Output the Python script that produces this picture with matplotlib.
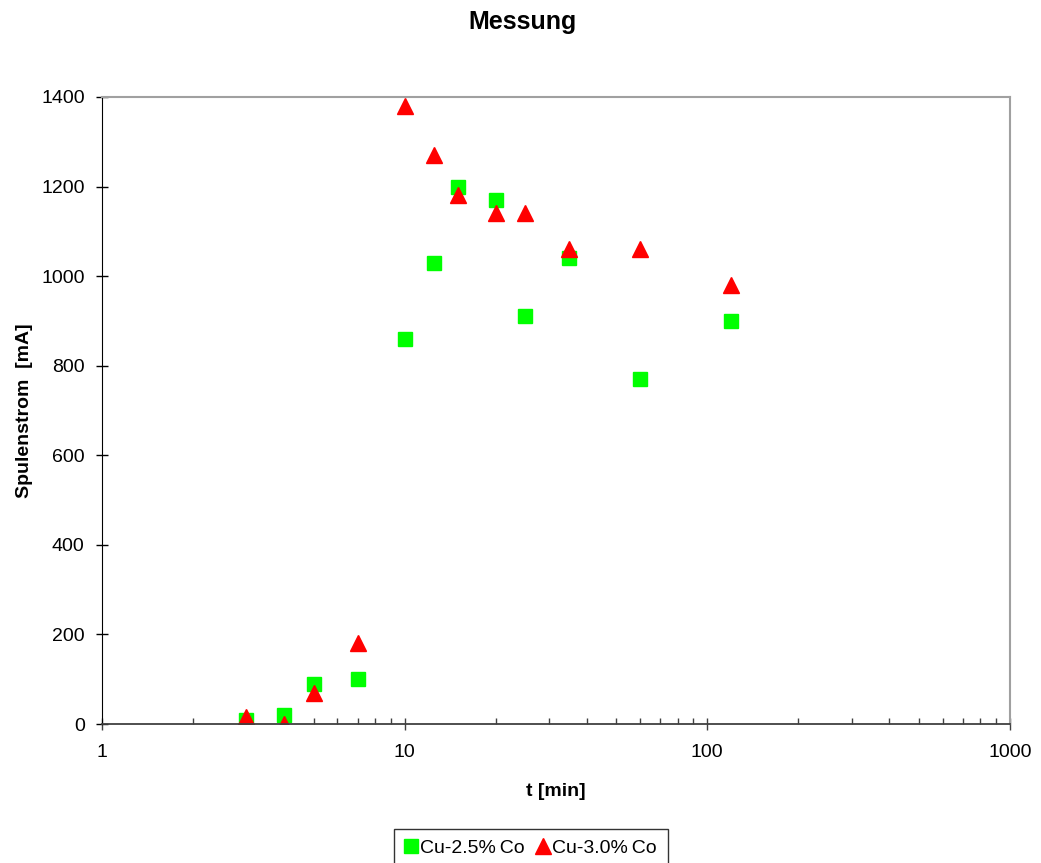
import matplotlib.pyplot as plt
from matplotlib.ticker import LogLocator, NullFormatter

plt.rcParams['font.family'] = ['Liberation Sans', 'DejaVu Sans']

# time in minutes
t = [3, 4, 5, 7, 10, 12.5, 15, 20, 25, 35, 60, 120]

# coil current in mA
cu25 = [10, 20, 90, 100, 860, 1030, 1200, 1170, 910, 1040, 770, 900]
cu30 = [15, 0, 70, 180, 1380, 1270, 1180, 1140, 1140, 1060, 1060, 980]

labels = ["Cu-2.5%\u2009Co", "Cu-3.0%\u2009Co"]
yticks = [0, 200, 400, 600, 800, 1000, 1200, 1400]
xticks = [1, 10, 100, 1000]

fig = plt.figure(figsize=(10.41, 8.63), dpi=100)
ax = fig.add_axes([0.098, 0.161, 0.872, 0.7267])

ax.plot(t, cu25, linestyle='none', marker='s', markersize=10,
        color='#00ff00', markeredgecolor='#00ff00', label=labels[0])
ax.plot(t, cu30, linestyle='none', marker='^', markersize=11,
        color='#ff0000', markeredgecolor='#ff0000', label=labels[1])

ax.set_xscale('log')
ax.set_xlim(1, 1000)
ax.set_ylim(0, 1400)
ax.set_xticks(xticks)
ax.set_xticklabels([str(v) for v in xticks])
ax.xaxis.set_minor_locator(LogLocator(base=10, subs=range(2, 10)))
ax.xaxis.set_minor_formatter(NullFormatter())
ax.set_yticks(yticks)

ax.tick_params(axis='x', which='major', direction='inout', length=9, width=1,
               labelsize=14, pad=10, color='#404040')
ax.tick_params(axis='x', which='minor', direction='in', length=4, width=1,
               color='#404040')
ax.tick_params(axis='y', which='major', direction='inout', length=9, width=1,
               labelsize=14, pad=8)

for side in ['top', 'right']:
    ax.spines[side].set_color('#a0a0a0')
    ax.spines[side].set_linewidth(1.5)
ax.spines['left'].set_color('black')
ax.spines['bottom'].set_color('#404040')
ax.spines['bottom'].set_linewidth(1.3)

fig.text(0.5015, 0.974, "Messung", ha='center', va='center',
         fontsize=18, fontweight='bold')
ax.set_xlabel("t [min]", fontsize=14, fontweight='bold', labelpad=16)
ax.set_ylabel("Spulenstrom  [mA]", fontsize=14, fontweight='bold', labelpad=6)

leg = ax.legend(loc='upper center', bbox_to_anchor=(0.51, 0.0394),
                bbox_transform=fig.transFigure, ncol=2, frameon=True,
                fancybox=False, fontsize=14, handlelength=0.6,
                handletextpad=0.2, columnspacing=0.6, borderpad=0.55,
                borderaxespad=0, markerscale=1.0)
leg.get_frame().set_edgecolor('black')
leg.get_frame().set_linewidth(1)

fig.savefig("out.png", dpi=100)
